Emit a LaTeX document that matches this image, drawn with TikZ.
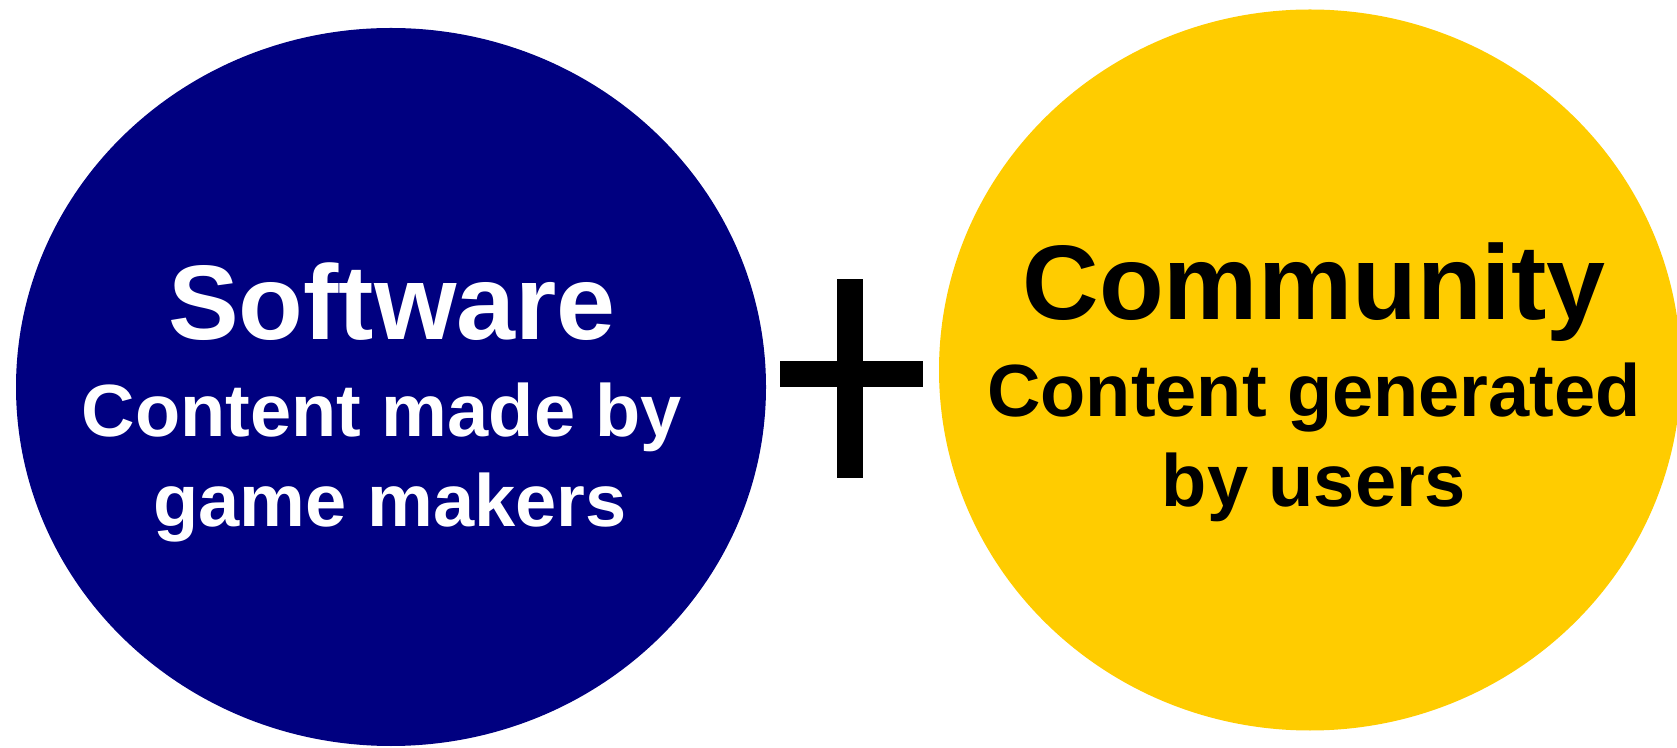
\documentclass[tikz,border=0pt]{standalone}
\usepackage{fontspec}
\setmainfont{Liberation Sans}
\usetikzlibrary{shapes.geometric}
\definecolor{navyfill}{RGB}{0,0,128}
\definecolor{goldfill}{RGB}{255,204,0}
\begin{document}
\begin{tikzpicture}[x=1pt,y=1pt,
  blob/.style={ellipse,inner sep=0pt,draw=none},
  title/.style={anchor=base,inner sep=0pt,font=\fontsize{106}{120}\selectfont\bfseries},
  sub/.style={anchor=base,inner sep=0pt,font=\fontsize{74}{88}\selectfont\bfseries}]
\useasboundingbox (0,0) rectangle (1677,747);
\clip (0,0) rectangle (1677,747);
\node[blob,fill=navyfill,minimum width=750pt,minimum height=718pt] (soft) at (391,360) {};
\node[blob,fill=goldfill,minimum width=742pt,minimum height=721pt] (comm) at (1310,377) {};
% plus sign
\fill[black] (837,747-279) rectangle (863,747-478);
\fill[black] (780,747-361) rectangle (923,747-387);
\node[title,text=white] (t1) at (392,407) {Software};
\node[sub,text=white] (t2) at (382,310) {Content made by};
\node[sub,text=white] (t3) at (390,220) {game makers};
\node[title,text=black] (c1) at (1314,427) {Community};
\node[sub,text=black] (c2) at (1314,330) {Content generated};
\node[sub,text=black] (c3) at (1314,240) {by users};
\end{tikzpicture}
\end{document}
